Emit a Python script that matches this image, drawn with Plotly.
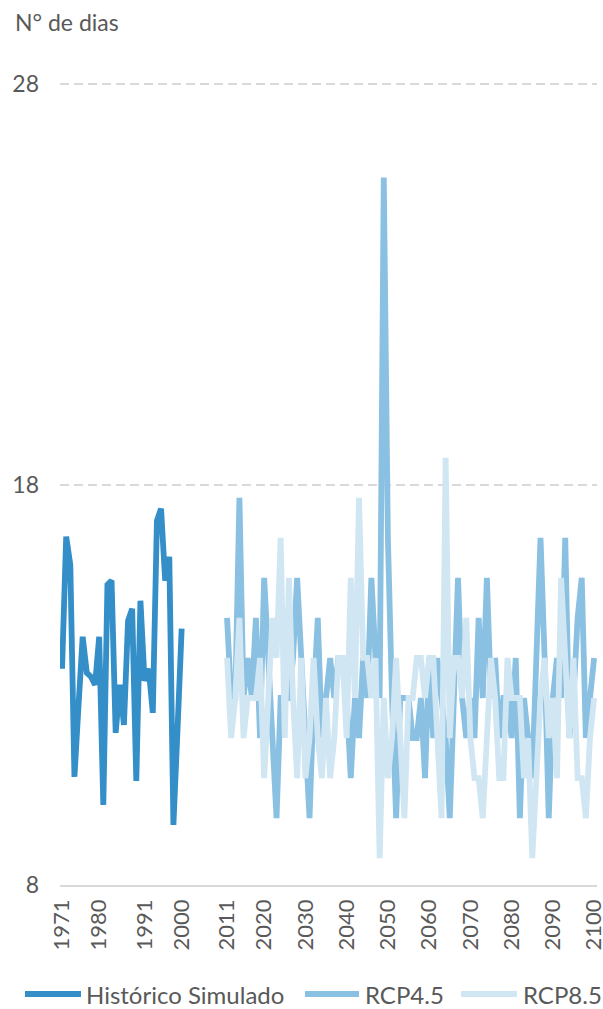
import plotly.graph_objects as go

# ── data ──────────────────────────────────────────────────────────────────
hist_years = list(range(1971, 2001))
hist_vals = [13.4, 16.7, 16.0, 10.7, 12.5, 14.2, 13.3, 13.2, 13.0, 14.2,
             10.0, 15.5, 15.6, 11.8, 13.0, 12.0, 14.6, 14.9, 10.6, 15.1,
             13.1, 13.4, 12.3, 17.1, 17.4, 15.6, 16.2, 9.5, 11.9, 14.4]

proj_years = list(range(2011, 2101))
rcp45_vals = [14.67, 12.67, 12.67, 17.67, 12.67, 13.67, 12.67, 14.67, 11.67, 15.67,
              13.67, 11.67, 9.67, 12.67, 12.67, 12.67, 13.67, 15.67, 13.67, 11.67,
              9.67, 12.67, 14.67, 11.67, 12.67, 13.67, 12.67, 13.67, 13.67, 12.67,
              10.67, 12.67, 11.67, 13.67, 12.67, 15.67, 13.67, 12.67, 25.67, 16.67,
              12.67, 9.67, 12.67, 12.67, 12.67, 11.67, 11.67, 12.67, 10.67, 13.67,
              11.67, 13.67, 12.67, 11.67, 9.67, 12.67, 15.67, 12.67, 11.67, 12.67,
              11.67, 14.67, 12.67, 15.67, 12.67, 13.67, 11.67, 12.67, 12.67, 11.67,
              13.67, 9.67, 12.67, 11.67, 10.67, 13.67, 16.67, 13.67, 9.67, 12.67,
              13.67, 12.67, 16.67, 11.67, 12.67, 14.67, 15.67, 11.67, 12.67, 13.67]
rcp85_vals = [13.67, 11.67, 12.67, 14.67, 11.67, 12.67, 12.67, 12.67, 13.67, 10.67,
              12.67, 14.67, 13.67, 16.67, 11.67, 15.67, 12.67, 10.67, 13.67, 10.67,
              11.67, 13.67, 11.67, 10.67, 12.67, 10.67, 11.67, 13.67, 13.67, 11.67,
              15.67, 12.67, 17.67, 13.67, 13.67, 12.67, 13.67, 8.67, 12.67, 10.67,
              11.67, 13.67, 11.67, 9.67, 12.67, 12.67, 13.67, 13.67, 12.67, 13.67,
              13.67, 11.67, 9.67, 18.67, 11.67, 13.67, 13.67, 12.67, 14.67, 11.67,
              10.67, 10.67, 9.67, 11.67, 13.67, 12.67, 10.67, 10.67, 13.67, 12.67,
              12.67, 12.67, 10.67, 11.67, 8.67, 10.67, 12.67, 13.67, 11.67, 12.67,
              10.67, 15.67, 13.67, 11.67, 13.67, 10.67, 10.67, 9.67, 11.67, 12.67]

tick_years = [1971, 1980, 1991, 2000, 2011, 2020, 2030, 2040,
              2050, 2060, 2070, 2080, 2090, 2100]
y_ticks = [8, 18, 28]

series_names = ["Histórico Simulado", "RCP4.5", "RCP8.5"]

# ── style ─────────────────────────────────────────────────────────────────
COLORS = ["rgb(52,142,200)", "rgb(138,192,225)", "rgb(208,230,243)"]
TEXT = "#595959"
GRID = "#D9D9D9"
FONT = "Lato"

fig = go.Figure()
for name, xs, ys, col in zip(series_names,
                             [hist_years, proj_years, proj_years],
                             [hist_vals, rcp45_vals, rcp85_vals],
                             COLORS):
    fig.add_trace(go.Scatter(x=xs, y=ys, name=name, mode="lines",
                             line=dict(color=col, width=5.8),
                             showlegend=False))

# hand-drawn legend so the sample lines are as long as in the original
legend_items = [(25, 81, 84), (305, 359, 363), (461, 517, 521)]
PL, PW = 60, 537          # plot left edge and width in px
leg_y = (885 - 994) / 802
for (x0, x1, xt), name, col in zip(legend_items, series_names, COLORS):
    fig.add_shape(type="line", xref="paper", yref="paper",
                  x0=(x0 - PL) / PW, x1=(x1 - PL) / PW, y0=leg_y, y1=leg_y,
                  line=dict(color=col, width=5.8))
    fig.add_annotation(text=name, xref="paper", yref="paper",
                       x=(xt - PL) / PW, y=leg_y, xanchor="left", yanchor="middle",
                       showarrow=False, font=dict(family=FONT, size=24, color=TEXT))

fig.add_annotation(text="N° de dias", xref="paper", yref="paper",
                   x=(13 - PL) / PW, y=(885 - 22) / 802,
                   xanchor="left", yanchor="middle", showarrow=False,
                   font=dict(family=FONT, size=23, color=TEXT))

fig.update_layout(
    width=603, height=1009,
    margin=dict(l=60, r=6, t=83, b=124),
    paper_bgcolor="white", plot_bgcolor="white",
    font=dict(family=FONT, color=TEXT, size=22),
    xaxis=dict(range=[1970.5, 2100.7], tickvals=tick_years,
               ticktext=[str(t) for t in tick_years], tickangle=-90,
               showgrid=False, zeroline=False, showline=True,
               linecolor=GRID, linewidth=1.5, ticks="", automargin=False,
               ticklabelstandoff=4, ticklabeloverflow="allow",
               tickfont=dict(size=22, color=TEXT)),
    yaxis=dict(range=[8, 28.03], tickvals=y_ticks, showgrid=True,
               gridcolor=GRID, gridwidth=1.5, griddash="9px,5px",
               zeroline=False, showline=False, ticks="", automargin=False,
               ticklabelstandoff=20, tickfont=dict(size=23, color=TEXT)),
)

fig.write_html("out.html", config={"displayModeBar": False},
               post_script="document.body.style.margin='0';")
